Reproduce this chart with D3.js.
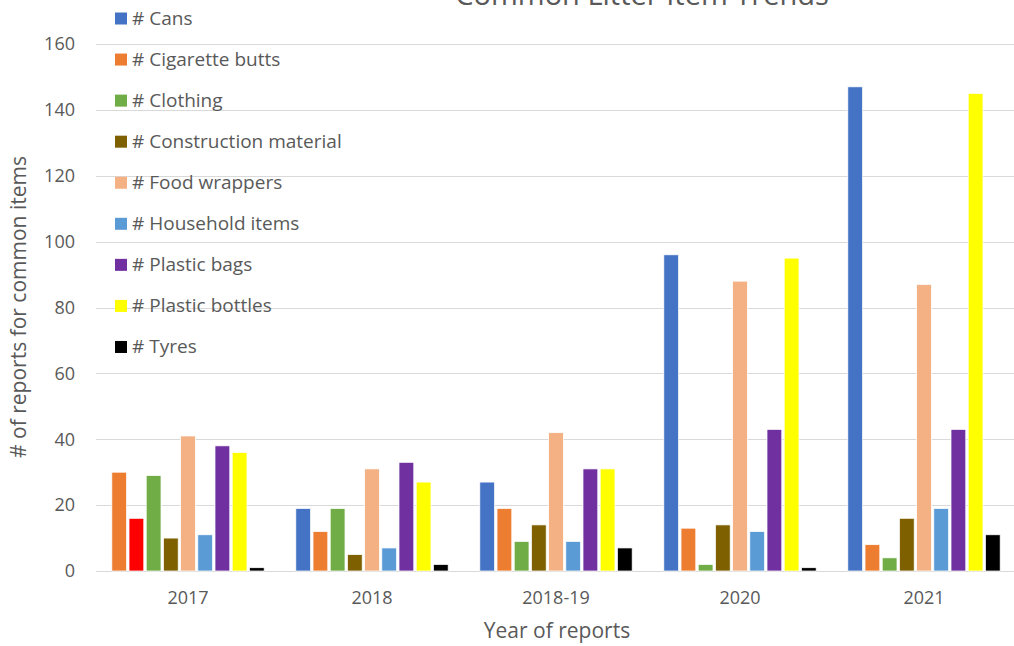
<!DOCTYPE html>
<html>
<head>
<meta charset="utf-8">
<script src="https://cdn.jsdelivr.net/npm/d3@7"></script>
<style>
body { margin: 0; background: #fff; }
svg text { fill: #595959; }
</style>
</head>
<body>
<svg id="chart" width="1014" height="646"></svg>
<script>
var years = ["2017", "2018", "2018-19", "2020", "2021"];
var seriesNames = ["# Cans", "# Cigarette butts", "# Clothing", "# Construction material",
	"# Food wrappers", "# Household items", "# Plastic bags", "# Plastic bottles", "# Tyres"];
var cans = [30, 19, 27, 96, 147];
var cigaretteButts = [16, 12, 19, 13, 8];
var clothing = [29, 19, 9, 2, 4];
var construction = [10, 5, 14, 14, 16];
var foodWrappers = [41, 31, 42, 88, 87];
var household = [11, 7, 9, 12, 19];
var plasticBags = [38, 33, 31, 43, 43];
var plasticBottles = [36, 27, 31, 95, 145];
var tyres = [1, 2, 7, 1, 11];
var yTicks = [0, 20, 40, 60, 80, 100, 120, 140, 160];

var values = [cans, cigaretteButts, clothing, construction, foodWrappers, household, plasticBags, plasticBottles, tyres];
var colors = ["#4472C4", "#ED7D31", "#70AD47", "#7F6000", "#F4B183", "#5B9BD5", "#7030A0", "#FFFF00", "#000000"];
// single points recoloured in the original workbook
var pointColors = { "0-2017": "#ED7D31", "1-2017": "#FF0000" };

var svg = d3.select("#chart");

var x = d3.scaleBand().domain(years).range([96, 1016]).paddingInner(0).paddingOuter(0);
var inner = d3.scaleBand().domain(d3.range(seriesNames.length))
	.range([0, x.bandwidth()]).paddingOuter(0.92).paddingInner(0.14);
var y = d3.scaleLinear().domain([0, 160]).range([571, 44]);

// grid
svg.append("g").selectAll("line").data(yTicks).join("line")
	.attr("x1", 96).attr("x2", 1014)
	.attr("y1", function(d) { return Math.round(y(d)) + 0.5; })
	.attr("y2", function(d) { return Math.round(y(d)) + 0.5; })
	.attr("stroke", "#d9d9d9").attr("stroke-width", 1);

var yAxis = d3.axisLeft(y).tickValues(yTicks).tickSize(0).tickPadding(0);
svg.append("g").attr("transform", "translate(75,0)").call(yAxis)
	.call(function(g) { g.select(".domain").remove(); })
	.selectAll("text").attr("font-family", "Open Sans").attr("font-size", 18).style("fill", "#595959");

var xAxis = d3.axisBottom(x).tickSize(0).tickPadding(0);
svg.append("g").attr("transform", "translate(0,591)").call(xAxis)
	.call(function(g) { g.select(".domain").remove(); })
	.selectAll("text").attr("font-family", "Open Sans").attr("font-size", 18).style("fill", "#595959");

// bars
var rows = [];
values.forEach(function(arr, si) {
	arr.forEach(function(v, yi) {
		rows.push({ s: si, year: years[yi], v: v });
	});
});
svg.append("g").selectAll("rect").data(rows).join("rect")
	.attr("x", function(d) { return x(d.year) + inner(d.s); })
	.attr("width", inner.bandwidth())
	.attr("y", function(d) { return y(d.v); })
	.attr("height", function(d) { return y(0) - y(d.v); })
	.attr("fill", function(d) { return pointColors[d.s + "-" + d.year] || colors[d.s]; })
	.attr("stroke", "#ffffff").attr("stroke-width", 0.75);

// legend
var leg = svg.append("g").selectAll("g").data(seriesNames).join("g")
	.attr("transform", function(d, i) { return "translate(115," + (18.5 + i * 41.06) + ")"; });
leg.append("rect").attr("x", 0).attr("y", -6).attr("width", 12).attr("height", 12)
	.attr("fill", function(d, i) { return colors[i]; });
leg.append("text").attr("x", 17).attr("y", 6.5)
	.attr("font-family", "Open Sans").attr("font-size", 19).text(function(d) { return d; });

// titles
svg.append("text").attr("x", 642).attr("y", 5).attr("text-anchor", "middle")
	.attr("font-family", "Open Sans").attr("font-size", 29).text("Common Litter Item Trends");
svg.append("text").attr("x", 557).attr("y", 638).attr("text-anchor", "middle")
	.attr("font-family", "Open Sans").attr("font-size", 21).text("Year of reports");
svg.append("text").attr("transform", "translate(26,307) rotate(-90)").attr("text-anchor", "middle")
	.attr("font-family", "Open Sans").attr("font-size", 21).text("# of reports for common items");
</script>
</body>
</html>
